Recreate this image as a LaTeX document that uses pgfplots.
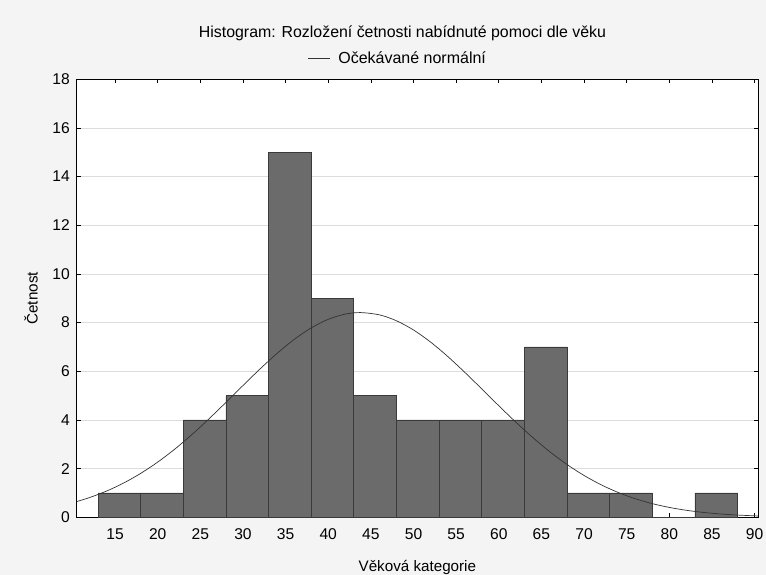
\documentclass[border=0pt]{standalone}
\usepackage{fontspec}
\setmainfont{Liberation Sans}
\usepackage{pgfplots}
\pgfplotsset{compat=1.18}

\definecolor{pagebg}{HTML}{F4F4F4}
\definecolor{barfill}{HTML}{6B6B6B}
\definecolor{baredge}{HTML}{3A3A3A}
\definecolor{gridgray}{HTML}{DCDCDC}
\definecolor{curvecol}{HTML}{333333}

\begin{document}
\begin{tikzpicture}[x=1bp,y=1bp]
% page background
\fill[pagebg] (0,0) rectangle (766,575);
\begin{axis}[
  at={(76.7bp,57.7bp)}, anchor=south west,
  scale only axis, width=681.3bp, height=438bp,
  xmin=10.5, xmax=90.4, ymin=0, ymax=18,
  xtick={15,20,...,90}, ytick={0,2,...,18},
  tick align=inside, major tick length=4bp,
  ymajorgrids, grid style={gridgray, line width=0.8bp},
  axis background/.style={fill=white},
  axis line style={black, line width=0.8bp},
  tick style={black, line width=0.6bp},
  tick label style={font=\fontsize{15.6bp}{18bp}\selectfont},
  /pgf/number format/assume math mode=true,
  xticklabel style={anchor=base, inner sep=0pt, yshift=-22.7bp},
  yticklabel style={anchor=east, inner sep=0pt, xshift=-6.7bp},
  every axis title shift=0pt,
  title={Histogram: Rozložení četnosti nabídnuté pomoci dle věku},
  title style={at={(axis description cs:0.4782,1)}, anchor=base, inner sep=0pt,
    yshift=41.9bp, font=\fontsize{15.9bp}{18bp}\selectfont},
  label style={font=\fontsize{15.2bp}{18bp}\selectfont},
  xlabel={Věková kategorie},
  xlabel style={at={(axis description cs:0.5,0)}, anchor=base, inner sep=0pt, yshift=-54bp},
  ylabel={Četnost},
  ylabel style={at={(axis description cs:-0.0671,0.5)}, anchor=center, inner sep=0pt},
  legend style={at={(axis description cs:0.4713,1)}, anchor=south, yshift=12bp,
    draw=none, fill=none, inner sep=0pt, font=\fontsize{16bp}{18bp}\selectfont},
  legend cell align=left,
  legend image code/.code={\draw[#1] (0bp,0bp) -- (22bp,0bp); \path (28bp,0bp);},
]
% age histogram, bins 13-18, 18-23, ..., 83-88
\addplot[ybar interval, fill=barfill, draw=baredge, line width=0.8bp, forget plot]
  coordinates {(13,1) (18,1) (23,4) (28,5) (33,15) (38,9) (43,5) (48,4)
               (53,4) (58,4) (63,7) (68,1) (73,1) (78,0) (83,1) (88,0)};
% expected normal frequencies
\addplot[no marks, smooth, line width=0.7bp, color=curvecol] coordinates {
  (10.5,0.6467) (12,0.8105) (14,1.0777) (16,1.4072) (18,1.8033) (20,2.2684)
  (22,2.8015) (24,3.3962) (26,4.0418) (28,4.7216) (30,5.4150) (32,6.0961)
  (34,6.7365) (36,7.3082) (38,7.7830) (40,8.1365) (42,8.3502) (43.8,8.4130)
  (46,8.3193) (48,8.0765) (50,7.6970) (52,7.2009) (54,6.6130) (56,5.9621)
  (58,5.2766) (60,4.5838) (62,3.9093) (64,3.2727) (66,2.6899) (68,2.1701)
  (70,1.7185) (72,1.3362) (74,1.0195) (76,0.7637) (78,0.5617) (80,0.4055)
  (82,0.2874) (84,0.2000) (86,0.1365) (88,0.0916) (90,0.0602) (90.4,0.0553)};
\addlegendentry{Očekávané normální}
\end{axis}
\end{tikzpicture}
\end{document}
